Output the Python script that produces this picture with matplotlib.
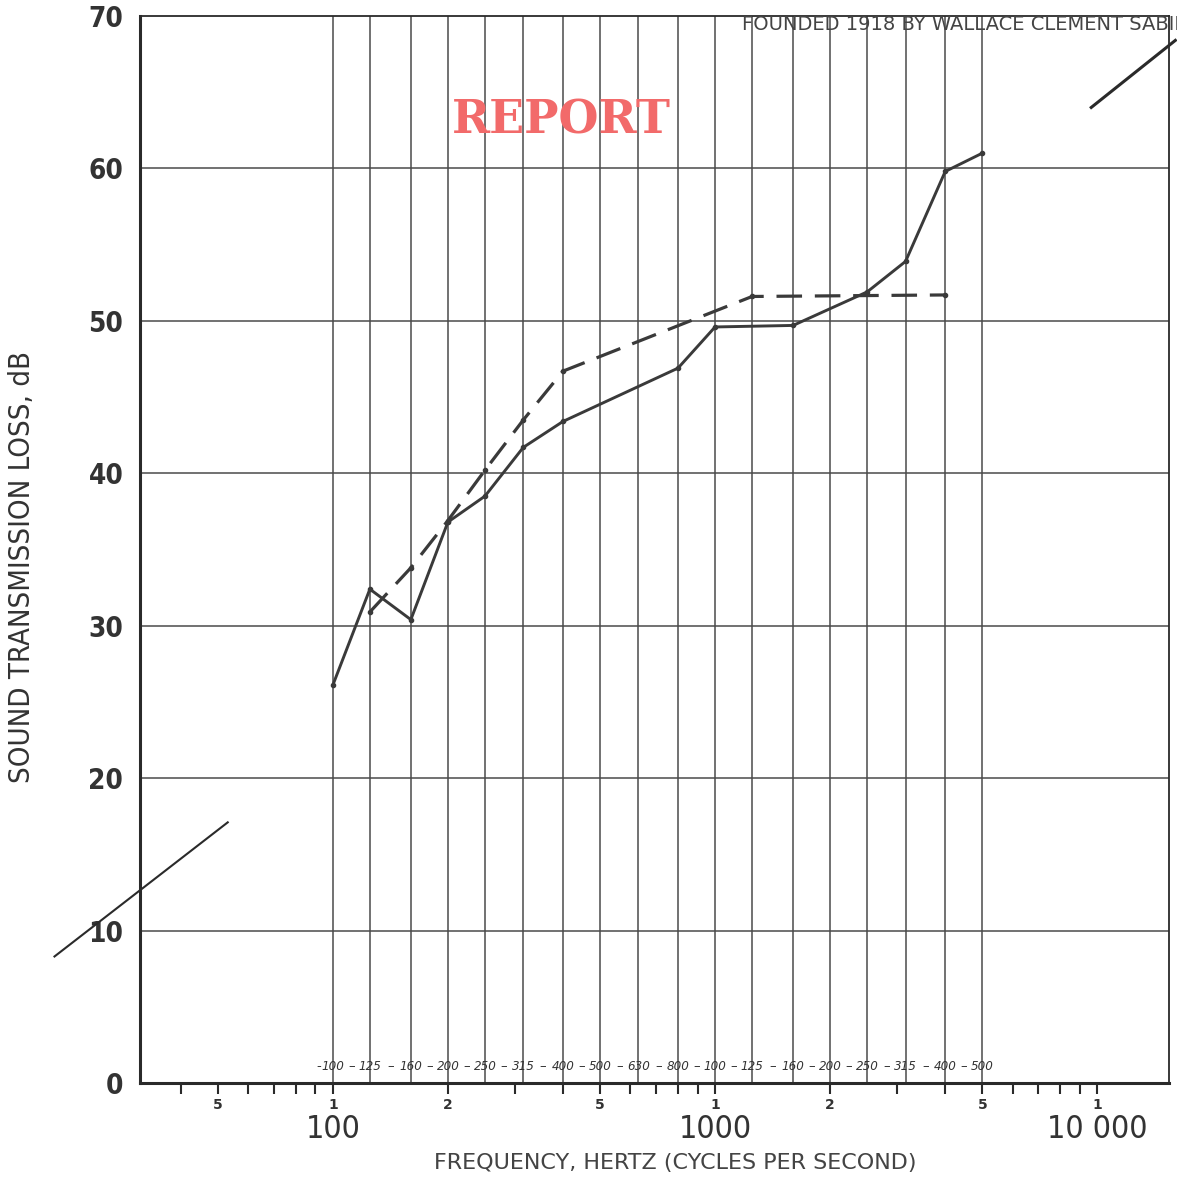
import matplotlib
matplotlib.use("Agg")
import matplotlib.pyplot as plt
import matplotlib.ticker as mticker
import matplotlib.transforms as mtrans
import numpy as np

# measured transmission loss (solid) and reference contour (dashed)
solid_freq = [100, 125, 160, 200, 250, 315, 400, 800, 1000, 1600, 2500, 3150, 4000, 5000]
solid_tl = [26.1, 32.4, 30.4, 36.8, 38.5, 41.7, 43.4, 46.9, 49.6, 49.7, 51.9, 53.9, 59.8, 61.0]

dash_freq = [125, 160, 200, 250, 315, 400, 1250, 4000]
dash_tl = [30.9, 33.8, 36.9, 40.2, 43.5, 46.7, 51.6, 51.7]

# third-octave bands drawn as vertical rules, with the printed labels
band_freq = [100, 125, 160, 200, 250, 315, 400, 500, 630, 800,
             1000, 1250, 1600, 2000, 2500, 3150, 4000, 5000]
band_text = ["100", "125", "160", "200", "250", "315", "400", "500", "630", "800",
             "100", "125", "160", "200", "250", "315", "400", "500"]

y_ticks = [0, 10, 20, 30, 40, 50, 60, 70]
small_labels = {50: "5", 100: "1", 200: "2", 500: "5", 1000: "1", 2000: "2", 5000: "5", 10000: "1"}
big_labels = {100: "100", 1000: "1000", 10000: "10 000"}

# stray ruler strokes on the scanned sheet
stroke_lo_f = [18.7, 53.1]
stroke_lo_y = [8.3, 17.1]
stroke_hi_f = [9640, 16000]
stroke_hi_y = [64.0, 68.4]

ink = "#3a3a3a"
cond = dict(family="DejaVu Sans", stretch="condensed")

fig = plt.figure(figsize=(11.77, 11.78), dpi=100)
ax = fig.add_axes([140 / 1177, 1 - 1083 / 1178, 1029 / 1177, 1067 / 1178])

ax.set_xscale("log")
ax.set_xlim(31.3, 15400)
ax.set_ylim(0, 70)

for f in band_freq:
    ax.axvline(f, color="#4a4a4a", lw=1.1, zorder=1)
for v in y_ticks[1:-1]:
    ax.axhline(v, color="#4a4a4a", lw=1.1, zorder=1)

ax.plot(solid_freq, solid_tl, color=ink, lw=2.1, marker="o", ms=3, zorder=3)
ax.plot(dash_freq, dash_tl, color=ink, lw=2.3, ls=(0, (8, 4)), marker="o", ms=3, zorder=3)

ax.plot(stroke_lo_f, stroke_lo_y, color="#2a2a2a", lw=1.5, clip_on=False, zorder=4)
ax.plot(stroke_hi_f, stroke_hi_y, color="#2a2a2a", lw=2.2, clip_on=False, zorder=4)

# spines
for side, w in [("left", 2.2), ("bottom", 2.2), ("top", 1.3), ("right", 1.3)]:
    ax.spines[side].set_linewidth(w)
    ax.spines[side].set_color("#2a2a2a")

# y axis
ax.set_yticks(y_ticks)
ax.set_yticklabels([str(v) for v in y_ticks], fontsize=20, color="#333333",
                   fontweight="semibold", **cond)
ax.tick_params(axis="y", length=0, pad=12)
ax.set_ylabel("SOUND TRANSMISSION LOSS, dB", fontsize=21, color="#333333", **cond)
ax.yaxis.set_label_coords(-0.115, 0.484)
ax.yaxis.label.set_va("center")

# x axis: log ticks 1..9 per decade, small digits under some
ax.xaxis.set_major_locator(mticker.LogLocator(base=10, subs=np.arange(1, 10)))
ax.xaxis.set_minor_locator(mticker.NullLocator())
ax.xaxis.set_major_formatter(mticker.FuncFormatter(
    lambda x, p: small_labels.get(int(round(x)), "")))
ax.tick_params(axis="x", direction="out", length=8, width=1.5, color="#2a2a2a",
               pad=3, labelsize=10, labelcolor="#333333")
for lab in ax.get_xticklabels():
    lab.set_fontweight("bold")

trans = mtrans.blended_transform_factory(ax.transData, ax.transAxes)
for f, s in big_labels.items():
    ax.text(f, -0.044, s, transform=trans, ha="center", va="center",
            fontsize=23, color="#333333", clip_on=False, **cond)

# band labels along the bottom
for i, (f, s) in enumerate(zip(band_freq, band_text)):
    ax.text(f, 1.1, s, ha="center", va="center", fontsize=9.5, style="italic",
            color="#333333", zorder=5, **cond)
    if i + 1 < len(band_freq):
        mid = np.sqrt(f * band_freq[i + 1])
        ax.text(mid, 1.1, "\u2013", ha="center", va="center", fontsize=9.5,
                color="#333333", zorder=5)
ax.text(band_freq[0] * 0.93, 1.1, "-", ha="right", va="center", fontsize=9.5,
        color="#333333", zorder=5)

ax.text(0.52, -0.075, "FREQUENCY, HERTZ (CYCLES PER SECOND)", transform=ax.transAxes,
        ha="center", va="center", fontsize=16, color="#444444")

# header and stamp
fig.text(742 / 1177, 1 - 24 / 1178, "FOUNDED 1918 BY WALLACE CLEMENT SABINE",
         ha="left", va="center", fontsize=14, color="#444444")
fig.text(561 / 1177, 1 - 120 / 1178, "REPORT", ha="center", va="center",
         fontsize=33, fontweight="bold", family="DejaVu Serif", color="#f26a6a")

fig.savefig("out.png", dpi=100, facecolor="white")
